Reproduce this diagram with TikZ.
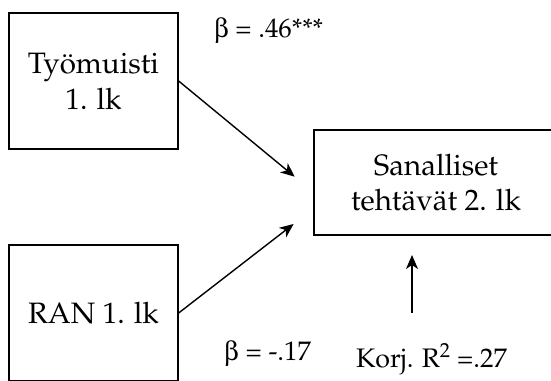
\documentclass[tikz,border=0pt]{standalone}
\usepackage[T1]{fontenc}
\usepackage{mathpazo}
\usepackage{pifont}
\usetikzlibrary{arrows.meta}

\begin{document}
\begin{tikzpicture}[x=1pt,y=-1pt,>={Stealth[length=14pt,width=12pt,inset=4pt]},
  box/.style={draw,line width=1.3pt,minimum width=169pt,minimum height=136pt,
    align=center,inner sep=0pt,font=\fontsize{29.5}{35.7}\selectfont},
  coef/.style={anchor=base west,inner sep=0pt,font=\fontsize{26.8}{30}\selectfont}]
\useasboundingbox (0,0) rectangle (551,380);
\clip (0,0) rectangle (551,380);
% predictors
\node[box] (wm) at (93.5,81) {Työmuisti\\1. lk};
\node[box] (ran) at (93.5,313) {RAN 1. lk};
% outcome
\node[box,minimum width=244pt,minimum height=105pt] (sanal) at (436,182.5) {Sanalliset\\tehtävät 2. lk};
\coordinate (wmtip) at (294.7,176.7);
\coordinate (rantip) at (293.6,224);
\coordinate (rbot) at (412,313);
\coordinate (rtop) at (412,255);
\draw[->,line width=1.4pt] (wm.east) -- (wmtip);
\draw[->,line width=1.4pt] (ran.east) -- (rantip);
\draw[->,line width=1.4pt] (rbot) -- (rtop);
% coefficients
\node[coef] (b1) at (213.8,37.7) {\Pisymbol{psy}{98} = .46***};
\node[coef] (b2) at (224,360) {\Pisymbol{psy}{98} = -.17};
\node[coef] (r2) at (355.8,367.7) {Korj. R\textsuperscript{2} =.27};
\end{tikzpicture}
\end{document}
